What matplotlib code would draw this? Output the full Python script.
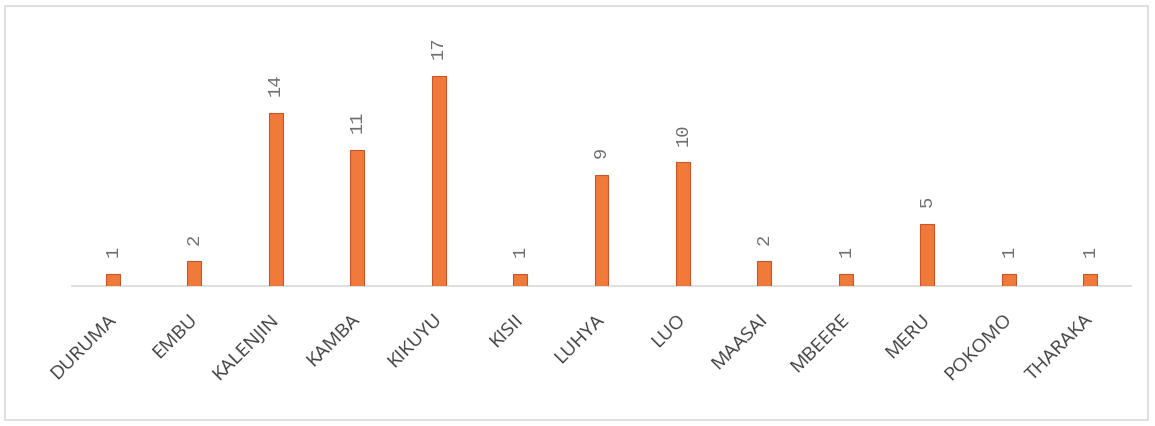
import matplotlib

matplotlib.use("Agg")
import matplotlib.pyplot as plt
from matplotlib.patches import Rectangle
import numpy as np

groups = ["DURUMA", "EMBU", "KALENJIN", "KAMBA", "KIKUYU", "KISII", "LUHYA",
          "LUO", "MAASAI", "MBEERE", "MERU", "POKOMO", "THARAKA"]
counts = [1, 2, 14, 11, 17, 1, 9, 10, 2, 1, 5, 1, 1]

BAR = "#F07A3A"
EDGE = "#C9552A"

fig = plt.figure(figsize=(11.55, 4.26), dpi=100)
ax = fig.add_axes([72 / 1155, 140 / 426, 1059 / 1155, 266 / 426])

x = np.arange(len(groups))
ax.bar(x, counts, width=0.17, color=BAR, edgecolor=EDGE, linewidth=0.8, zorder=3)

for xi, v in zip(x, counts):
    ax.annotate(str(v), (xi, v), xytext=(0, 12), textcoords="offset points",
                rotation=90, ha="center", va="bottom", fontsize=13.5,
                family="Liberation Mono", color="#707070")

ax.set_xlim(-0.5, len(groups) - 0.5)
ax.set_ylim(0, 21.5)
ax.set_xticks(x)
ax.set_xticklabels(groups, rotation=45, ha="right", va="center",
                   rotation_mode="anchor", fontsize=14, family="Open Sans",
                   color="#404040")
ax.tick_params(axis="x", length=0, pad=22)
ax.set_yticks([])
for side in ("top", "left", "right"):
    ax.spines[side].set_visible(False)
ax.spines["bottom"].set_color("#d9d9d9")
ax.spines["bottom"].set_linewidth(1.2)

# light chart-area border
fig.patches.append(Rectangle((5 / 1155, 6 / 426), 1143 / 1155, 414 / 426,
                             transform=fig.transFigure, fill=False,
                             edgecolor="#d9d9d9", linewidth=1.2))

fig.savefig("out.png", dpi=100)
